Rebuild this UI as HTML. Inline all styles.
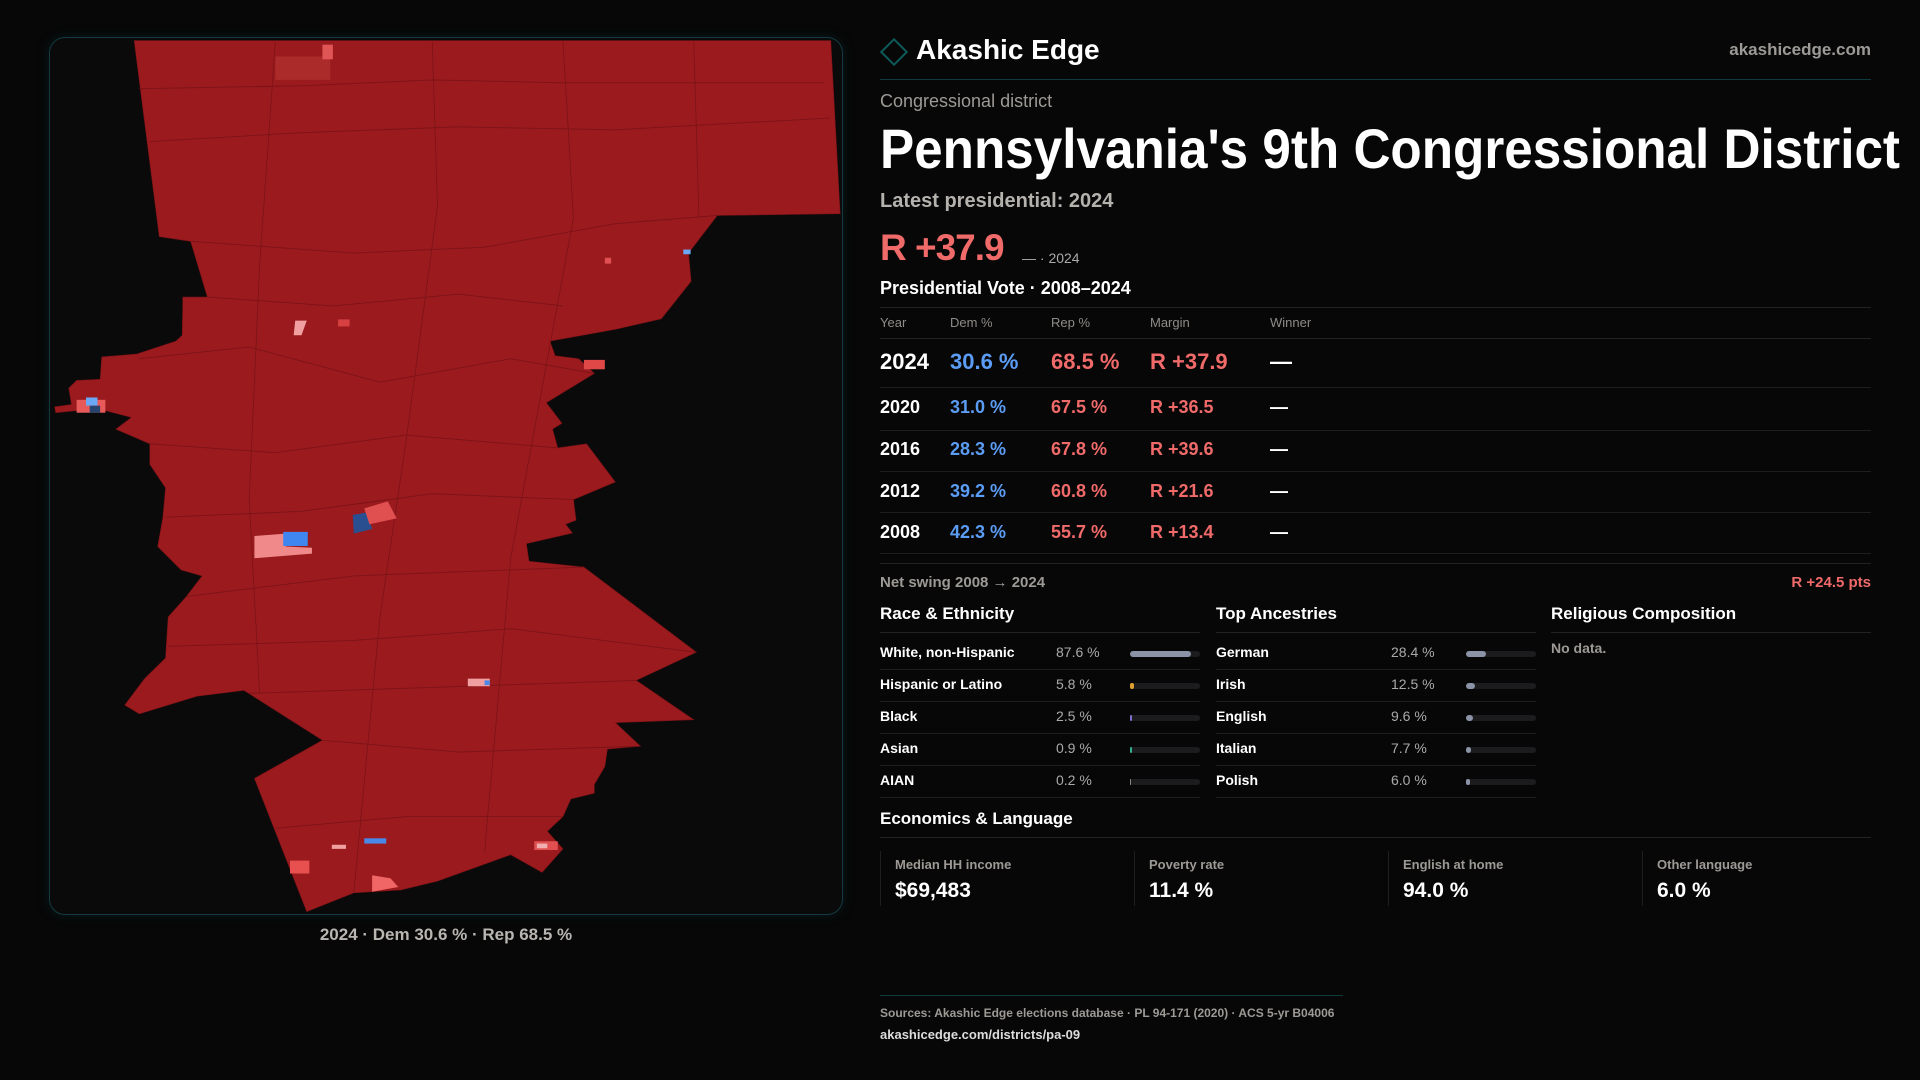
<!DOCTYPE html>
<html><head><meta charset="utf-8">
<style>
*{margin:0;padding:0;box-sizing:border-box}
body{width:1920px;height:1080px;background:#070707;font-family:"Liberation Sans",sans-serif;color:#fff;position:relative;overflow:hidden}
.abs{position:absolute;white-space:nowrap}
.g{color:#9d9a96}
.hr{position:absolute;height:1px;background:#222}
</style></head><body>

<div style="position:absolute;left:49px;top:37px;width:794px;height:878px;border:1px solid #123a40;border-radius:16px;background:#0a0a0b;box-shadow:0 0 12px rgba(20,80,90,0.25)"></div>
<svg class="abs" style="left:0;top:0" width="1920" height="1080">
 <g transform="translate(40,30) scale(0.523,0.587)">
  <polygon fill="#9a1a1e" stroke="#7a1216" stroke-width="1" points="180,18 1512,18 1530,313 1295,316 1240,380 1245,428 1188,492 1100,510 975,530 985,555 1030,560 1060,585 968,635 998,670 980,680 990,712 1045,705 1100,770 1020,800 1025,835 1005,842 1018,857 930,875 935,905 1040,915 1255,1060 1140,1108 1250,1175 1100,1180 1148,1220 1085,1225 1080,1255 1060,1285 1060,1300 1015,1310 1000,1340 970,1365 1000,1395 960,1435 900,1405 760,1450 690,1465 600,1470 510,1502 410,1275 540,1210 390,1125 300,1135 190,1165 162,1150 200,1105 240,1070 245,1000 280,965 310,930 270,920 225,880 235,830 240,780 210,740 210,705 145,680 175,660 110,645 30,652 28,642 60,638 55,610 70,597 115,595 118,557 185,552 260,530 272,520 273,455 320,455 288,360 228,352"/>
  <g stroke="#7c1317" stroke-width="1.5" fill="none">
   <polyline points="190,100 500,95 750,85 1000,90 1500,90"/>
   <polyline points="210,190 500,175 800,165 1100,170 1510,150"/>
   <polyline points="290,360 600,380 850,370 1100,330 1295,316"/>
   <polyline points="320,455 560,470 800,450 1000,470"/>
   <polyline points="190,560 400,540 650,600 900,560 1060,585"/>
   <polyline points="210,705 450,720 700,690 990,712"/>
   <polyline points="240,830 500,820 750,790 1020,800"/>
   <polyline points="280,965 600,930 1040,915"/>
   <polyline points="245,1050 600,1040 900,1020 1255,1060"/>
   <polyline points="400,1130 750,1120 1140,1108"/>
   <polyline points="540,1210 800,1230 1148,1220"/>
   <polyline points="450,1360 700,1340 1000,1340"/>
   <polyline points="750,20 760,300 700,700 650,1000 600,1470"/>
   <polyline points="1000,20 1020,320 900,900 850,1400"/>
   <polyline points="450,20 420,400 400,800 420,1130"/>
   <polyline points="1250,20 1260,320"/>
  </g>
  <g>
   <rect x="450" y="45" width="105" height="40" fill="#ab2a2a"/>
   <rect x="540" y="25" width="20" height="25" fill="#e05555"/>
   <polygon points="488,495 510,495 500,520 485,520" fill="#f0a0a0"/>
   <rect x="570" y="493" width="22" height="12" fill="#d64040"/>
   <rect x="1040" y="562" width="40" height="16" fill="#e04848"/>
   <rect x="70" y="630" width="55" height="22" fill="#e85a5a"/>
   <rect x="88" y="626" width="22" height="14" fill="#6aa8f5"/>
   <rect x="95" y="640" width="20" height="12" fill="#27446f"/>
   <polygon points="410,862 470,858 470,880 520,882 520,892 410,900" fill="#f08a8a"/>
   <rect x="465" y="855" width="47" height="24" fill="#3f86f0"/>
   <polygon points="598,826 625,822 635,850 600,858" fill="#2a4f90"/>
   <polygon points="620,815 665,803 682,832 630,842" fill="#e05050"/>
   <rect x="818" y="1105" width="42" height="13" fill="#f0a0a0"/>
   <rect x="850" y="1108" width="10" height="8" fill="#4a88e8"/>
   <polygon points="635,1440 670,1445 685,1460 635,1468" fill="#f06565"/>
   <rect x="478" y="1415" width="37" height="22" fill="#e85050"/>
   <rect x="558" y="1388" width="27" height="7" fill="#f0a0a0"/>
   <rect x="620" y="1377" width="42" height="9" fill="#4a88e8"/>
   <rect x="945" y="1382" width="45" height="15" fill="#e05050"/>
   <rect x="950" y="1386" width="20" height="8" fill="#f0b0b0"/>
   <rect x="1080" y="388" width="12" height="10" fill="#e05050"/>
   <rect x="1230" y="374" width="14" height="8" fill="#6aa8f5"/>
  </g>
 </g>
</svg>
<div class="abs" style="left:49px;width:794px;text-align:center;top:925px;font-size:17px;font-weight:bold;color:#b9b6b2">2024 · Dem 30.6 % · Rep 68.5 %</div>

<div class="abs" style="left:884px;top:42px;width:20px;height:20px;border:2px solid #0f5a5a;transform:rotate(45deg)"></div>
<div class="abs" style="left:916px;top:34px;font-size:28px;font-weight:bold">Akashic Edge</div>
<div class="abs g" style="right:49px;top:40px;font-size:17px;font-weight:bold">akashicedge.com</div>
<div class="hr" style="left:880px;width:991px;top:79px;background:#0f3a3f"></div>

<div class="abs g" style="left:880px;top:91px;font-size:18px">Congressional district</div>
<svg class="abs" style="left:878px;top:113px" width="1042" height="70"><text x="2" y="55" font-family="Liberation Sans" font-weight="bold" font-size="56" fill="#fff" textLength="1020" lengthAdjust="spacingAndGlyphs">Pennsylvania's 9th Congressional District</text></svg>
<div class="abs" style="left:880px;top:190px;font-size:20px;font-weight:bold;color:#b5b2ae">Latest presidential: 2024</div>
<div class="abs" style="left:880px;top:227px;font-size:37px;font-weight:bold;color:#f06a6a;letter-spacing:-1px">R +37.9</div>
<div class="abs" style="left:1022px;top:250px;font-size:14px;color:#aaa">— · 2024</div>
<div class="abs" style="left:880px;top:278px;font-size:18px;font-weight:bold">Presidential Vote · 2008–2024</div>
<div class="hr" style="left:880px;width:991px;top:307px"></div>
<div id="tbl"></div>
<div class="hr" style="left:880px;width:991px;top:563px"></div>
<div class="abs g" style="left:880px;top:574px;font-size:15px;font-weight:bold">Net swing 2008 → 2024</div>
<div class="abs" style="right:49px;top:574px;font-size:15px;font-weight:bold;color:#f06a6a">R +24.5 pts</div>

<div class="abs" style="left:880px;top:604px;font-size:17px;font-weight:bold">Race &amp; Ethnicity</div>
<div class="abs" style="left:1216px;top:604px;font-size:17px;font-weight:bold">Top Ancestries</div>
<div class="abs" style="left:1551px;top:604px;font-size:17px;font-weight:bold">Religious Composition</div>
<div class="hr" style="left:880px;width:320px;top:632px"></div>
<div class="hr" style="left:1216px;width:320px;top:632px"></div>
<div class="hr" style="left:1551px;width:320px;top:632px"></div>
<div class="abs g" style="left:1551px;top:640px;font-size:14px;font-weight:bold">No data.</div>
<div id="demo"></div>

<div class="abs" style="left:880px;top:809px;font-size:17px;font-weight:bold">Economics &amp; Language</div>
<div class="hr" style="left:880px;width:991px;top:837px"></div>
<div id="stats"></div>

<div class="hr" style="left:880px;width:463px;top:995px;background:#0f3a3f"></div>
<div class="abs g" style="left:880px;top:1006px;font-size:12px;font-weight:bold">Sources: Akashic Edge elections database · PL 94-171 (2020) · ACS 5-yr B04006</div>
<div class="abs" style="left:880px;top:1027px;font-size:13px;font-weight:bold;color:#ddd">akashicedge.com/districts/pa-09</div>

<script>
const years=["2024","2020","2016","2012","2008"];
const demPct=[30.6,31.0,28.3,39.2,42.3];
const repPct=[68.5,67.5,67.8,60.8,55.7];
const margins=[37.9,36.5,39.6,21.6,13.4];
const raceLabels=["White, non-Hispanic","Hispanic or Latino","Black","Asian","AIAN"];
const raceValues=[87.6,5.8,2.5,0.9,0.2];
const raceColors=["#8a94a6","#e0a030","#8070d0","#30b090","#888"];
const ancLabels=["German","Irish","English","Italian","Polish"];
const ancValues=[28.4,12.5,9.6,7.7,6.0];
const statLabels=["Median HH income","Poverty rate","English at home","Other language"];
const statValues=["$69,483","11.4 %","94.0 %","6.0 %"];

function mk(parent,css,text){const d=document.createElement('div');d.className='abs';d.style.cssText=css;if(text!==undefined)d.textContent=text;parent.appendChild(d);return d;}
const tbl=document.getElementById('tbl');
const cols=[880,950,1051,1150,1270];
["Year","Dem %","Rep %","Margin","Winner"].forEach((h,i)=>{
 const e=mk(tbl,`left:${cols[i]}px;top:315px;font-size:13px;color:#8f8c88`,h);
 
 
});
const hl=mk(tbl,'left:880px;width:991px;top:338px;height:1px;background:#222');


const rowY=[349,397,439,481,522];
years.forEach((y,i)=>{
 const fs=i===0?22:18;
 const top=rowY[i];
 const vals=[[y,'#fff'],[demPct[i].toFixed(1)+' %','#5b9cf5'],[repPct[i].toFixed(1)+' %','#f06a6a'],['R +'+margins[i].toFixed(1),'#f06a6a'],['—','#fff']];
 vals.forEach((v,j)=>{
  const e=mk(tbl,`left:${cols[j]}px;top:${top}px;font-size:${fs}px;font-weight:bold;color:${v[1]}`,v[0]);
  
  
 });
 const lineY=[387,430,471,512,553][i];
 const r=mk(tbl,`left:880px;width:991px;top:${lineY}px;height:1px;background:#1e1e1e`);
 
 
});
const demo=document.getElementById('demo');
function bars(x0,labels,values,colors,valX,barX,scale,prefix){
 labels.forEach((l,i)=>{
  const top=644+i*32;
  const a=mk(demo,`left:${x0}px;top:${top}px;font-size:14px;font-weight:bold`,l);
  
  
  const b=mk(demo,`left:${valX}px;top:${top}px;font-size:14px;color:#aaa`,values[i].toFixed(1)+' %');
  
  
  const t=mk(demo,`left:${barX}px;top:${top+7}px;width:70px;height:6px;border-radius:3px;background:#1c1c1e`);
  
  
  const w=Math.max(values[i]*scale,values[i]>0.5?2:0);
  const f=mk(demo,`left:${barX}px;top:${top+7}px;width:${w}px;height:6px;border-radius:3px;background:${colors?colors[i]:'#8a94a6'}`);
  
  
  const s=mk(demo,`left:${x0}px;width:320px;top:${top+25}px;height:1px;background:#1e1e1e`);
  
  
 });
}
bars(880,raceLabels,raceValues,raceColors,1056,1130,0.7,'race');
bars(1216,ancLabels,ancValues,null,1391,1466,0.7,'ancestry');
const st=document.getElementById('stats');
statLabels.forEach((l,i)=>{
 const x=880+i*254;
 const c=mk(st,`left:${x}px;top:851px;width:1px;height:55px;background:#1e1e1e`);
 
 
 const a=mk(st,`left:${x+15}px;top:857px;font-size:13px;color:#9d9a96;font-weight:bold`,l);
 
 
 const b=mk(st,`left:${x+15}px;top:879px;font-size:21px;font-weight:bold`,statValues[i]);
 
 
});
</script>
</body></html>
